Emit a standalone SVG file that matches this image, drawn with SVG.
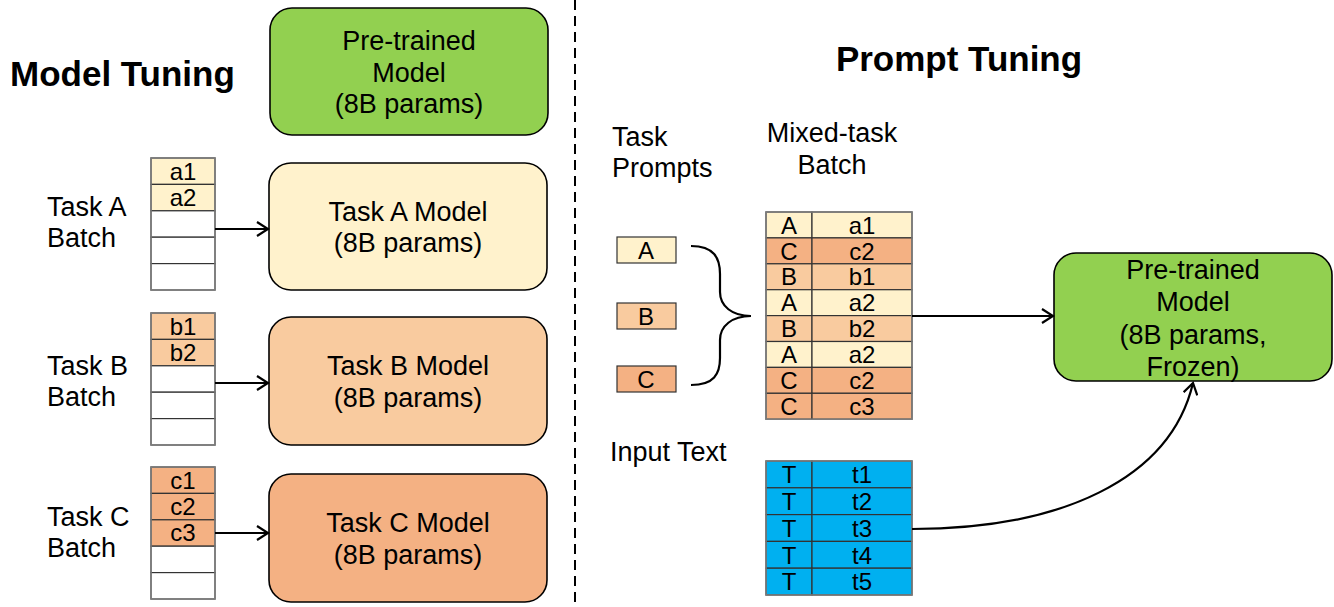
<svg xmlns="http://www.w3.org/2000/svg" width="1334" height="607" viewBox="0 0 1334 607">
<style>
text{font-family:"Liberation Sans",Arial,sans-serif;fill:#000}
.t{font-size:27px}
.h{font-size:35px;font-weight:bold}
.c{font-size:24px;text-anchor:middle}
.m{font-size:27px;text-anchor:middle}
.box{stroke:#000;stroke-width:1.6}
.cell{stroke:#333;stroke-width:1.2}
.out{fill:none;stroke:#7f7f7f;stroke-width:1.5}
.y{fill:#FFF2CC}.o{fill:#F9CB9F}.d{fill:#F4B183}.g{fill:#92D050}.b{fill:#00B0F0}.w{fill:#fff}
.conn{fill:none;stroke:#000;stroke-width:2.2}
</style>
<defs>
<marker id="arr" markerWidth="14" markerHeight="16" refX="12" refY="8" orient="auto" markerUnits="userSpaceOnUse">
<path d="M1,1 L12,8 L1,15" fill="none" stroke="#000" stroke-width="2.2"/>
</marker>
</defs>

<text class="h" x="10" y="86">Model Tuning</text>
<text class="h" x="959" y="71" text-anchor="middle">Prompt Tuning</text>
<line x1="575" y1="0" x2="575" y2="607" stroke="#000" stroke-width="2" stroke-dasharray="10 6"/>

<g id="pretrained-top">
<rect class="box g" x="270" y="8" width="278" height="127" rx="22"/>
<text class="m" x="409" y="50">Pre-trained</text>
<text class="m" x="409" y="82">Model</text>
<text class="m" x="409" y="113">(8B params)</text>
</g>

<g id="batch-a">
<text class="t" x="47" y="216">Task A</text>
<text class="t" x="47" y="247">Batch</text>
<rect class="cell y" x="151" y="158" width="64" height="26.4"/>
<rect class="cell y" x="151" y="184.4" width="64" height="26.4"/>
<rect class="cell w" x="151" y="210.8" width="64" height="26.4"/>
<rect class="cell w" x="151" y="237.2" width="64" height="26.4"/>
<rect class="cell w" x="151" y="263.6" width="64" height="26.4"/>
<rect class="out" x="151" y="158" width="64" height="132"/>
<text class="c" x="183" y="180">a1</text>
<text class="c" x="183" y="206">a2</text>
</g>
<g id="model-a">
<rect class="box y" x="269" y="163" width="278" height="127" rx="22"/>
<text class="m" x="408" y="221">Task A Model</text>
<text class="m" x="408" y="252">(8B params)</text>
</g>

<g id="batch-b">
<text class="t" x="47" y="375">Task B</text>
<text class="t" x="47" y="406">Batch</text>
<rect class="cell o" x="151" y="313" width="64" height="26.4"/>
<rect class="cell o" x="151" y="339.4" width="64" height="26.4"/>
<rect class="cell w" x="151" y="365.8" width="64" height="26.4"/>
<rect class="cell w" x="151" y="392.2" width="64" height="26.4"/>
<rect class="cell w" x="151" y="418.6" width="64" height="26.4"/>
<rect class="out" x="151" y="313" width="64" height="132"/>
<text class="c" x="183" y="335">b1</text>
<text class="c" x="183" y="361">b2</text>
</g>
<g id="model-b">
<rect class="box o" x="269" y="317" width="278" height="128" rx="22"/>
<text class="m" x="408" y="375">Task B Model</text>
<text class="m" x="408" y="407">(8B params)</text>
</g>

<g id="batch-c">
<text class="t" x="47" y="526">Task C</text>
<text class="t" x="47" y="557">Batch</text>
<rect class="cell d" x="151" y="467" width="64" height="26.4"/>
<rect class="cell d" x="151" y="493.4" width="64" height="26.4"/>
<rect class="cell d" x="151" y="519.8" width="64" height="26.4"/>
<rect class="cell w" x="151" y="546.2" width="64" height="26.4"/>
<rect class="cell w" x="151" y="572.6" width="64" height="26.4"/>
<rect class="out" x="151" y="467" width="64" height="132"/>
<text class="c" x="183" y="489">c1</text>
<text class="c" x="183" y="515">c2</text>
<text class="c" x="183" y="541">c3</text>
</g>
<g id="model-c">
<rect class="box d" x="269" y="474" width="278" height="128" rx="22"/>
<text class="m" x="408" y="532">Task C Model</text>
<text class="m" x="408" y="564">(8B params)</text>
</g>

<g id="task-prompts">
<text class="t" x="612" y="146">Task</text>
<text class="t" x="612" y="177">Prompts</text>
<rect class="cell y" x="617" y="237" width="59" height="26"/>
<rect class="cell o" x="617" y="303" width="59" height="26"/>
<rect class="cell d" x="617" y="366" width="59" height="26"/>
<text class="c" x="646" y="259">A</text>
<text class="c" x="646" y="325">B</text>
<text class="c" x="646" y="388">C</text>
</g>

<g id="mixed-batch">
<text class="m" x="832" y="142">Mixed-task</text>
<text class="m" x="832" y="174">Batch</text>
<g>
<rect class="cell y" x="766" y="212" width="46" height="25.9"/><rect class="cell y" x="812" y="212" width="100" height="25.9"/>
<rect class="cell d" x="766" y="237.9" width="46" height="25.9"/><rect class="cell d" x="812" y="237.9" width="100" height="25.9"/>
<rect class="cell o" x="766" y="263.8" width="46" height="25.9"/><rect class="cell o" x="812" y="263.8" width="100" height="25.9"/>
<rect class="cell y" x="766" y="289.7" width="46" height="25.9"/><rect class="cell y" x="812" y="289.7" width="100" height="25.9"/>
<rect class="cell o" x="766" y="315.6" width="46" height="25.9"/><rect class="cell o" x="812" y="315.6" width="100" height="25.9"/>
<rect class="cell y" x="766" y="341.5" width="46" height="25.9"/><rect class="cell y" x="812" y="341.5" width="100" height="25.9"/>
<rect class="cell d" x="766" y="367.4" width="46" height="25.9"/><rect class="cell d" x="812" y="367.4" width="100" height="25.9"/>
<rect class="cell d" x="766" y="393.3" width="46" height="25.9"/><rect class="cell d" x="812" y="393.3" width="100" height="25.9"/>
<rect class="out" x="766" y="212" width="146" height="207.2"/>
</g>
<text class="c" x="789" y="234">A</text><text class="c" x="862" y="234">a1</text>
<text class="c" x="789" y="260">C</text><text class="c" x="862" y="260">c2</text>
<text class="c" x="789" y="285">B</text><text class="c" x="862" y="285">b1</text>
<text class="c" x="789" y="311">A</text><text class="c" x="862" y="311">a2</text>
<text class="c" x="789" y="337">B</text><text class="c" x="862" y="337">b2</text>
<text class="c" x="789" y="363">A</text><text class="c" x="862" y="363">a2</text>
<text class="c" x="789" y="389">C</text><text class="c" x="862" y="389">c2</text>
<text class="c" x="789" y="415">C</text><text class="c" x="862" y="415">c3</text>
</g>

<g id="input-text">
<text class="t" x="610" y="461">Input Text</text>
<rect class="cell b" x="766" y="461" width="46" height="26.8"/><rect class="cell b" x="812" y="461" width="100" height="26.8"/>
<rect class="cell b" x="766" y="487.8" width="46" height="26.8"/><rect class="cell b" x="812" y="487.8" width="100" height="26.8"/>
<rect class="cell b" x="766" y="514.6" width="46" height="26.8"/><rect class="cell b" x="812" y="514.6" width="100" height="26.8"/>
<rect class="cell b" x="766" y="541.4" width="46" height="26.8"/><rect class="cell b" x="812" y="541.4" width="100" height="26.8"/>
<rect class="cell b" x="766" y="568.2" width="46" height="26.8"/><rect class="cell b" x="812" y="568.2" width="100" height="26.8"/>
<rect class="out" x="766" y="461" width="146" height="134"/>
<text class="c" x="789" y="483">T</text><text class="c" x="862" y="483">t1</text>
<text class="c" x="789" y="510">T</text><text class="c" x="862" y="510">t2</text>
<text class="c" x="789" y="537">T</text><text class="c" x="862" y="537">t3</text>
<text class="c" x="789" y="564">T</text><text class="c" x="862" y="564">t4</text>
<text class="c" x="789" y="590">T</text><text class="c" x="862" y="590">t5</text>
</g>

<g id="pretrained-frozen">
<rect class="box g" x="1054" y="253" width="278" height="128" rx="22"/>
<text class="m" x="1193" y="279">Pre-trained</text>
<text class="m" x="1193" y="311">Model</text>
<text class="m" x="1193" y="344">(8B params,</text>
<text class="m" x="1193" y="376">Frozen)</text>
</g>

<g id="connectors">
<line class="conn" x1="215" y1="229" x2="268" y2="229" marker-end="url(#arr)"/>
<line class="conn" x1="215" y1="383" x2="268" y2="383" marker-end="url(#arr)"/>
<line class="conn" x1="215" y1="533" x2="268" y2="533" marker-end="url(#arr)"/>
<path class="conn" d="M691,246 C714,246 720,258 720,274 L720,292 C720,306 732,316 751,316 C732,316 720,326 720,340 L720,358 C720,374 714,385 691,385"/>
<line class="conn" x1="912" y1="316" x2="1053" y2="316" marker-end="url(#arr)"/>
<path class="conn" d="M912,529 C1060,529 1170,480 1193,383" marker-end="url(#arr)"/>
</g>
</svg>
